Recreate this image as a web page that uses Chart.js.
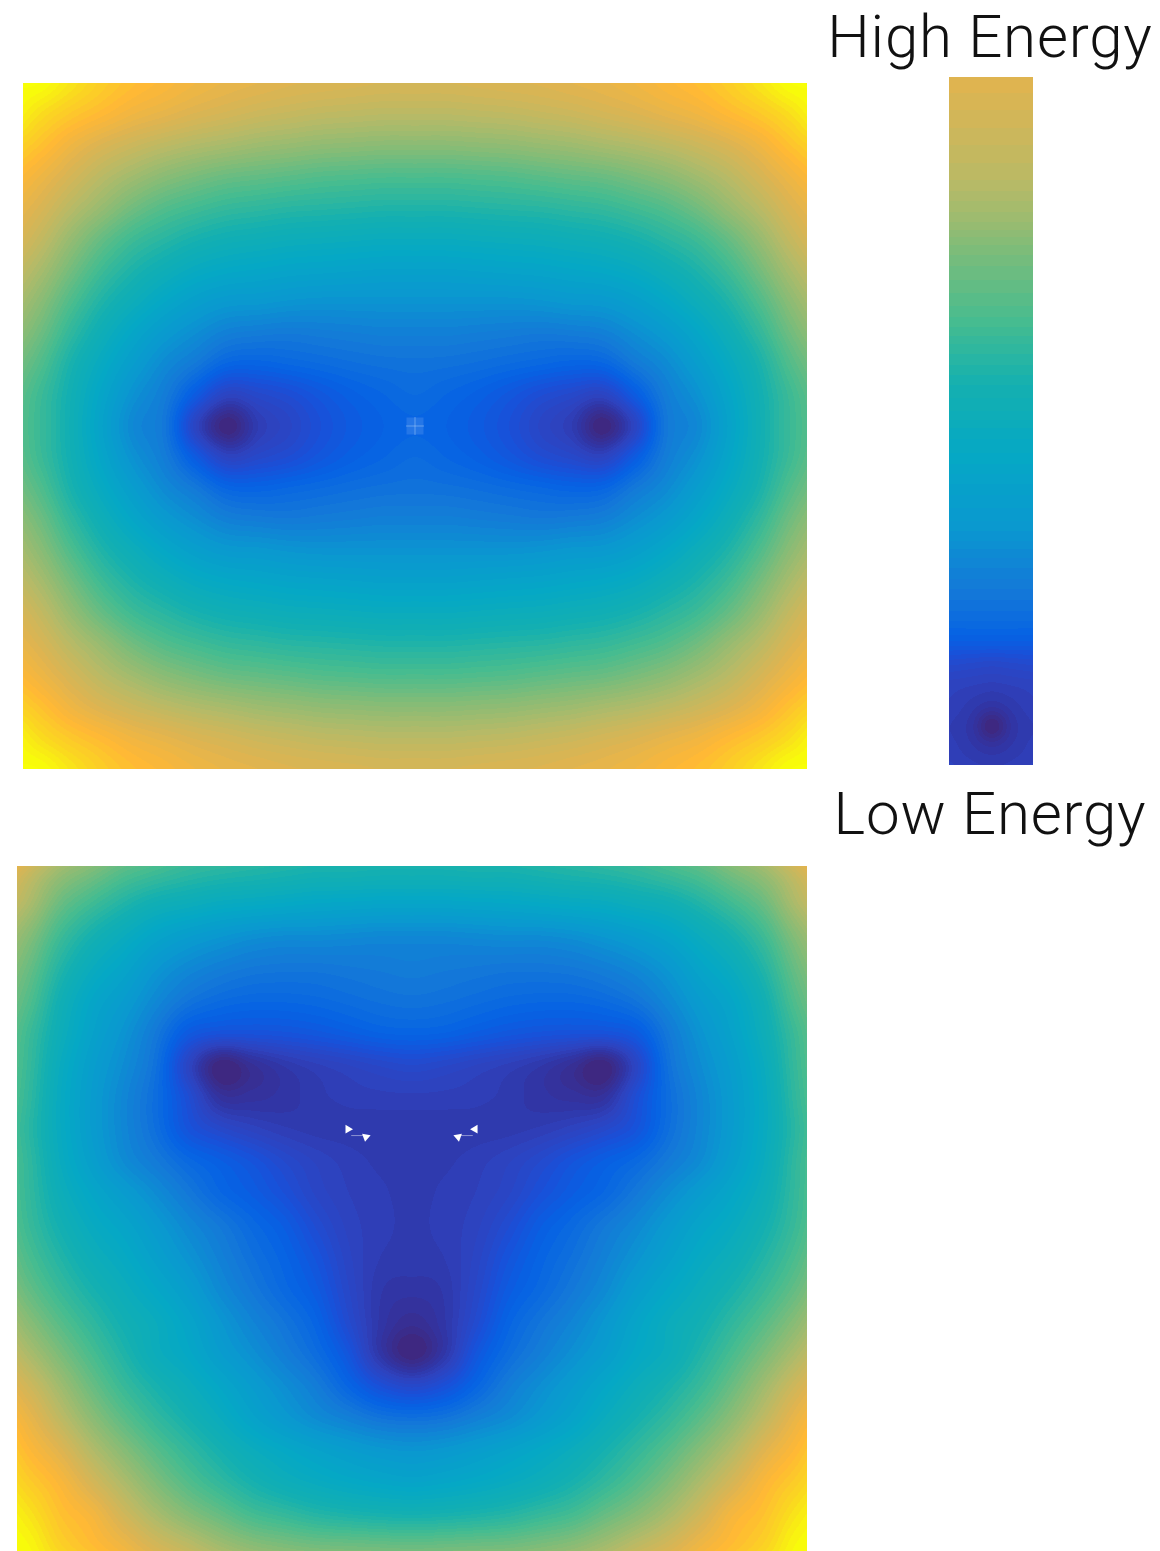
<!DOCTYPE html>
<html>
<head>
<meta charset="utf-8">
<title>High / Low Energy</title>
<script src="https://cdn.jsdelivr.net/npm/chart.js@4"></script>
<style>
  html, body { margin: 0; padding: 0; background: #fff; }
  body { position: relative; width: 1160px; height: 1551px; overflow: hidden; }
  canvas { position: absolute; display: block; }
  #highCanvas { left: 23px; top: 83px; }
  #lowCanvas { left: 17px; top: 866px; }
  #barCanvas { left: 949px; top: 77px; }
  .label { position: absolute; left: 790px; width: 400px; text-align: center; color: #111;
    font-family: Roboto, sans-serif; font-weight: 300; font-size: 60px; letter-spacing: 0.8px; line-height: 70px; white-space: nowrap; }
  #highLabel { top: 2px; }
  #lowLabel { top: 779px; }
</style>
</head>
<body>
<div class="label" id="highLabel">High Energy</div>
<div class="label" id="lowLabel">Low Energy</div>
<canvas id="highCanvas" width="784" height="686"></canvas>
<canvas id="lowCanvas" width="790" height="685"></canvas>
<canvas id="barCanvas" width="84" height="688"></canvas>
<script>
// ===== DATA (energy in 0-100 colour units) =====
const panelCols = [-13,-12,-11,-10,-9,-8,-7,-6,-5,-4,-3,-2,-1,0,1,2,3,4,5,6,7,8,9,10,11,12,13];
const highRows = [0,1,2,3,4,5,6,7,8,9,10,11,12,13,14,15,16,17,18,19,20,21,22];
const lowRows = [0,1,2,3,4,5,6,7,8,9,10,11,12,13,14,15,16,17,18,19,20,21,22,23];
const barCols = [-2,-1,0,1,2];
const barRows = [0,1,2,3,4,5,6,7,8,9,10,11,12,13,14,15,16,17,18,19,20,21,22,23,24,25,26,27,28,29,30,31,32,33];

const highEnergy = [
  [100,100,96,92,89,87,85,83.5,82.5,81.5,81,80.5,80,80,80,80.5,81,81.5,82.5,83.5,85,87,89,92,96,100,100],
  [100,95,91,88,85,83,81,79.5,78,77,76,75.5,75,75,75,75.5,76,77,78,79.5,81,83,85,88,91,95,100],
  [94,90,85,81,78,75.5,73.5,72,70.5,69.5,68.5,68,67.5,67.5,67.5,68,68.5,69.5,70.5,72,73.5,75.5,78,81,85,90,94],
  [89,85,80,75,71,67.5,65,63,62,61,60,59.5,59,59,59,59.5,60,61,62,63,65,67.5,71,75,80,85,89],
  [85,81,75,69.5,64,60,57.5,55.5,54.5,53.5,53,52.5,52,52,52,52.5,53,53.5,54.5,55.5,57.5,60,64,69.5,75,81,85],
  [82,77,69.5,62.5,57,53.5,50.5,48.5,47.5,46.5,46,45.5,45,45,45,45.5,46,46.5,47.5,48.5,50.5,53.5,57,62.5,69.5,77,82],
  [78,72.5,64.5,57,51.5,47.5,44,42,41,40,39.5,39,38.5,38.5,38.5,39,39.5,40,41,42,44,47.5,51.5,57,64.5,72.5,78],
  [74,68,59.5,52,46.5,41.5,37.5,35,34.5,33.5,33,33,33,33,33,33,33,33.5,34.5,35,37.5,41.5,46.5,52,59.5,68,74],
  [70,64,55,47.5,41,35.5,31.5,28,27,26.5,27,27.5,28,28,28,27.5,27,26.5,27,28,31.5,35.5,41,47.5,55,64,70],
  [66,60,51,43.5,36.5,30.5,26,21,20.5,21.5,22.5,23.5,24.2,24.5,24.2,23.5,22.5,21.5,20.5,21,26,30.5,36.5,43.5,51,60,66],
  [63,57,49,40.5,32.5,27,18,10,12,14,17,19.5,21.2,22.5,21.2,19.5,17,14,12,10,18,27,32.5,40.5,49,57,63],
  [62,56.5,48.5,39,30,25.5,10,0,7.5,11,15,18,20,21,20,18,15,11,7.5,0,10,25.5,30,39,48.5,56.5,62],
  [63,57,49,40.5,32.5,27,18,10,12,14,17,19.5,21.2,22.5,21.2,19.5,17,14,12,10,18,27,32.5,40.5,49,57,63],
  [66,60,51,43.5,36.5,30.5,26,21,20.5,21.5,22.5,23.5,24.2,24.5,24.2,23.5,22.5,21.5,20.5,21,26,30.5,36.5,43.5,51,60,66],
  [70,64,55,47.5,41,35.5,31.5,28,27,26.5,27,27.5,28,28,28,27.5,27,26.5,27,28,31.5,35.5,41,47.5,55,64,70],
  [74,68,59.5,52,46.5,41.5,37.5,35,34.5,33.5,33,33,33,33,33,33,33,33.5,34.5,35,37.5,41.5,46.5,52,59.5,68,74],
  [78,72.5,64.5,57,51.5,47.5,44,42,41,40,39.5,39,38.5,38.5,38.5,39,39.5,40,41,42,44,47.5,51.5,57,64.5,72.5,78],
  [82,77,69.5,62.5,57,53.5,50.5,48.5,47.5,46.5,46,45.5,45,45,45,45.5,46,46.5,47.5,48.5,50.5,53.5,57,62.5,69.5,77,82],
  [85,81,75,69.5,64,60,57.5,55.5,54.5,53.5,53,52.5,52,52,52,52.5,53,53.5,54.5,55.5,57.5,60,64,69.5,75,81,85],
  [89,85,80,75,71,67.5,65,63,62,61,60,59.5,59,59,59,59.5,60,61,62,63,65,67.5,71,75,80,85,89],
  [94,90,85,81,78,75.5,73.5,72,70.5,69.5,68.5,68,67.5,67.5,67.5,68,68.5,69.5,70.5,72,73.5,75.5,78,81,85,90,94],
  [100,95,91,88,85,83,81,79.5,78,77,76,75.5,75,75,75,75.5,76,77,78,79.5,81,83,85,88,91,95,100],
  [100,100,96,92,89,87,85,83.5,82.5,81.5,81,80.5,80,80,80,80.5,81,81.5,82.5,83.5,85,87,89,92,96,100,100]
];

const lowEnergy = [
  [96,90,80,74,68,64,60,58,56,55,54,53,53,53,53,53,54,55,56,58,60,64,68,74,80,90,96],
  [86,78,70,65,60,57,54.5,53,52,51,50,50,49.5,49.5,49.5,50,50,51,52,53,54.5,57,60,65,70,78,86],
  [80,73,63,57,52,48,46,44,43,42,41,40.5,40,40,40,40.5,41,42,43,44,46,48,52,57,63,73,80],
  [74,67,57,50,45,40,36.5,34,32,31,31,30.5,30,30,30,30.5,31,31,32,34,36.5,40,45,50,57,67,74],
  [70,63,52.5,45,40,34,30,27.5,26,25.5,25.5,26,26.5,27,26.5,26,25.5,25.5,26,27.5,30,34,40,45,52.5,63,70],
  [67,60,49,41,36,30,25,22.5,21.5,21.5,22,23,24,24.5,24,23,22,21.5,21.5,22.5,25,30,36,41,49,60,67],
  [65,57,47,39,33,26,18,15.5,15.5,16,17,18.5,20,20.5,20,18.5,17,16,15.5,15.5,18,26,33,39,47,57,65],
  [64,56,45,37,31,24,10.5,0,3.5,6.5,8.5,10,11.5,12.5,11.5,10,8.5,6.5,3.5,0,10.5,24,31,37,45,56,64],
  [63,55,44,36,29.5,23,14,4.5,4.5,5.5,7,8,8.3,8.4,8.3,8,7,5.5,4.5,4.5,14,23,29.5,36,44,55,63],
  [62,54,44,36,29.5,23.5,16,12,9.5,7.8,7,6.9,6.8,6.8,6.8,6.9,7,7.8,9.5,12,16,23.5,29.5,36,44,54,62],
  [62.5,55,45,37.5,31,26.5,22,19,16,12.5,9.8,8.2,7.2,6.8,7.2,8.2,9.8,12.5,16,19,22,26.5,31,37.5,45,55,62.5],
  [62.5,55.5,47,41,36,31,26,21.5,18.5,15,11,8.8,7.8,7,7.8,8.8,11,15,18.5,21.5,26,31,36,41,47,55.5,62.5],
  [64,56.5,49.5,44,40,35,30,26,22,18.5,13.5,9.6,8,7.2,8,9.6,13.5,18.5,22,26,30,35,40,44,49.5,56.5,64],
  [66.5,59,52.5,47,43,38,33,28.2,24,20.5,16,10.5,7.5,7,7.5,10.5,16,20.5,24,28.2,33,38,43,47,52.5,59,66.5],
  [70,62.5,56,50.5,46,41.5,36.5,30.5,26,22,18,11.5,6.5,5.5,6.5,11.5,18,22,26,30.5,36.5,41.5,46,50.5,56,62.5,70],
  [75,67.5,60.5,54.5,49,45,40,34,29,25,20.5,13,6,3,6,13,20.5,25,29,34,40,45,49,54.5,60.5,67.5,75],
  [80,73,65.5,58.5,52,46,42,36.5,32,27.5,23,16.5,6,0,6,16.5,23,27.5,32,36.5,42,46,52,58.5,65.5,73,80],
  [85,79,71,63,56,50.5,46,41,36,31.5,27,21,15,12,15,21,27,31.5,36,41,46,50.5,56,63,71,79,85],
  [90,84,76,68,61,55,50,45,39.5,35,31,28,25,24,25,28,31,35,39.5,45,50,55,61,68,76,84,90],
  [94,88,82,74,67,60.5,55,50,45.5,42,39,36.5,34.5,33.5,34.5,36.5,39,42,45.5,50,55,60.5,67,74,82,88,94],
  [97,92,87,80,73,66,60,55,50.5,47,44.5,42.5,41,40,41,42.5,44.5,47,50.5,55,60,66,73,80,87,92,97],
  [100,96,90,86,79,72.5,67,62.5,58,55.5,53,51.5,50.5,50,50.5,51.5,53,55.5,58,62.5,67,72.5,79,86,90,96,100],
  [100,99,93,89,85,80,76,71.5,68,66,64.5,64,63.5,63,63.5,64,64.5,66,68,71.5,76,80,85,89,93,99,100],
  [100,100,98,94,90,87,84,81,78,76,75,74,74,74,74,74,75,76,78,81,84,87,90,94,98,100,100]
];

const barEnergy = [
  [82.5,82.5,82.5,82.5,82.5],[81,81,81,81,81],[79.5,79.5,79.5,79.5,79.5],[78,78,78,78,78],
  [76.5,76.5,76.5,76.5,76.5],[75,75,75,75,75],[72.5,72.5,72.5,72.5,72.5],[70,70,70,70,70],
  [66.5,66.5,66.5,66.5,66.5],[64,64,64,64,64],[62,62,62,62,62],[60,60,60,60,60],
  [57.5,57.5,57.5,57.5,57.5],[54.5,54.5,54.5,54.5,54.5],[52,52,52,52,52],[49.5,49.5,49.5,49.5,49.5],
  [47.5,47.5,47.5,47.5,47.5],[44.5,44.5,44.5,44.5,44.5],[42.5,42.5,42.5,42.5,42.5],[40,40,40,40,40],
  [37.5,37.5,37.5,37.5,37.5],[35.5,35.5,35.5,35.5,35.5],[33,33,33,33,33],[30,30,30,30,30],
  [27.5,27.5,27.5,27.5,27.5],[25,25,25,25,25],[22.5,22.5,22.5,22.5,22.5],[18.5,18.5,18.5,18.5,18.5],
  [13,12.5,12,12.5,13],[9.5,9,8.5,9,9.5],[8.5,7,5.5,7,8.5],[7.5,5.5,0,5.5,7.5],[8,6.5,5,6.5,8],[9,8,7.5,8,9]
];

// small rendering glitches in the original surfaces
const speckX = [0];
const speckY = [11];
const notchX = [-2, -1.44, 1.97, 1.44];
const notchY = [9, 9.24, 9, 9.24];
const notchAngle = [-30, 190, 30, 170];
const tailX = [-1.68, 1.68];
const tailY = [9.2, 9.2];

const stopValues = [0, 2, 4, 6, 9, 12, 15, 20, 26, 34, 42, 50, 58, 66, 74, 82, 88, 94, 100];
const stopColors = ["#40267c", "#3a2c8c", "#35319a", "#3036a8", "#2e42bd", "#2648ca", "#1a50d8", "#0562e4", "#1478d8", "#0a98d0",
  "#05a8c5", "#14b0b0", "#45bc90", "#80bc78", "#b4ba68", "#e0b450", "#ffb835", "#fad820", "#f8ff08"];

// ===== HEATMAP =====
function hexRgb(h) {
  return [parseInt(h.slice(1, 3), 16), parseInt(h.slice(3, 5), 16), parseInt(h.slice(5, 7), 16)];
}

function colorFor(v) {
  let i = 0;
  while (i < stopValues.length - 2 && v > stopValues[i + 1]) i++;
  const t = Math.min(1, Math.max(0, (v - stopValues[i]) / (stopValues[i + 1] - stopValues[i])));
  const a = hexRgb(stopColors[i]);
  const b = hexRgb(stopColors[i + 1]);
  return [a[0] + (b[0] - a[0]) * t, a[1] + (b[1] - a[1]) * t, a[2] + (b[2] - a[2]) * t];
}

function cubic(p0, p1, p2, p3, t) {
  return p1 + 0.5 * t * (p2 - p0 + t * (2 * p0 - 5 * p1 + 4 * p2 - p3 + t * (3 * (p1 - p2) + p3 - p0)));
}

// contour fill: sample the grid per pixel, then snap to a level
const bandStep = 1.25;

const heatmapPlugin = {
  id: "heatmap",
  beforeDatasetsDraw(chart, args, opts) {
    const { ctx, chartArea: area, scales } = chart;
    const w = Math.round(area.right - area.left);
    const h = Math.round(area.bottom - area.top);
    const off = document.createElement("canvas");
    off.width = w;
    off.height = h;
    const octx = off.getContext("2d");
    const img = octx.createImageData(w, h);
    const grid = opts.grid;
    const nx = opts.cols.length;
    const ny = opts.rows.length;
    const at = (r, c) => grid[Math.min(ny - 1, Math.max(0, r))][Math.min(nx - 1, Math.max(0, c))];

    let k = 0;
    for (let py = 0; py < h; py++) {
      const fy = scales.y.getValueForPixel(area.top + py + 0.5) - opts.rows[0];
      const r = Math.floor(fy);
      const ty = fy - r;
      for (let px = 0; px < w; px++) {
        const fx = scales.x.getValueForPixel(area.left + px + 0.5) - opts.cols[0];
        const c = Math.floor(fx);
        const tx = fx - c;
        const row = [];
        for (let m = -1; m <= 2; m++) {
          row.push(cubic(at(r + m, c - 1), at(r + m, c), at(r + m, c + 1), at(r + m, c + 2), tx));
        }
        let v = cubic(row[0], row[1], row[2], row[3], ty);
        v = Math.floor(Math.max(0, Math.min(100, v)) / bandStep) * bandStep + bandStep / 2;
        const rgb = colorFor(v);
        img.data[k++] = rgb[0];
        img.data[k++] = rgb[1];
        img.data[k++] = rgb[2];
        img.data[k++] = 255;
      }
    }
    octx.putImageData(img, 0, 0);
    ctx.drawImage(off, area.left, area.top, area.right - area.left, area.bottom - area.top);
  },
};

function gridPoints(cols, rows, grid) {
  const pts = [];
  rows.forEach((ry, r) => cols.forEach((cx, c) => pts.push({ x: cx, y: ry, v: grid[r][c] })));
  return pts;
}

function makeChart(id, cols, rows, grid, xRange, yRange, extra) {
  return new Chart(document.getElementById(id), {
    type: "scatter",
    data: {
      datasets: [{ label: "energy", data: gridPoints(cols, rows, grid), pointRadius: 0 }].concat(extra),
    },
    options: {
      responsive: false,
      animation: false,
      layout: { padding: 0, autoPadding: false },
      events: [],
      plugins: {
        legend: { display: false },
        tooltip: { enabled: false },
        heatmap: { grid, cols, rows },
      },
      scales: {
        x: { type: "linear", display: false, min: xRange[0], max: xRange[1] },
        y: { type: "linear", display: false, reverse: true, min: yRange[0], max: yRange[1] },
      },
    },
    plugins: [heatmapPlugin],
  });
}

makeChart("highCanvas", panelCols, highRows, highEnergy, [-12.51, 12.51], [0, 22], [
  {
    label: "speck",
    data: speckX.map((x, i) => ({ x, y: speckY[i] })),
    pointStyle: "rect",
    pointRadius: 12,
    borderWidth: 0,
    backgroundColor: "rgba(190,220,255,0.16)",
  },
  {
    label: "speck cross",
    data: speckX.map((x, i) => ({ x, y: speckY[i] })),
    pointStyle: "cross",
    pointRadius: 9,
    borderWidth: 1,
    borderColor: "rgba(225,240,255,0.35)",
  },
]);

makeChart("lowCanvas", panelCols, lowRows, lowEnergy, [-12.34, 12.34], [0.81, 22.13], [
  {
    label: "notch tails",
    data: tailX.map((x, i) => ({ x, y: tailY[i] })),
    pointStyle: "line",
    pointRadius: 7,
    borderWidth: 1,
    borderColor: "rgba(255,255,255,0.45)",
  },
  {
    label: "notches",
    data: notchX.map((x, i) => ({ x, y: notchY[i] })),
    pointStyle: "triangle",
    pointRadius: 5,
    rotation: notchAngle,
    borderWidth: 0,
    backgroundColor: "#ffffff",
  },
]);

makeChart("barCanvas", barCols, barRows, barEnergy, [-2.05, 1.95], [0.095, 32.86], []);
</script>
</body>
</html>
